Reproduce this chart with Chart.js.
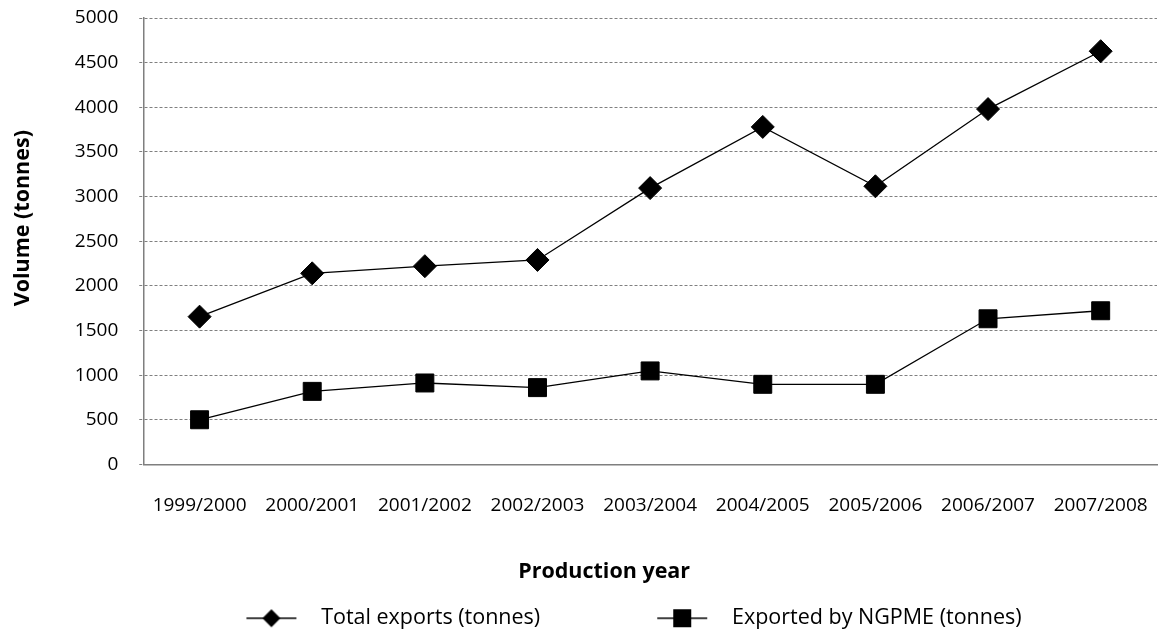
<!DOCTYPE html>
<html>
<head>
<meta charset="utf-8">
<script src="https://cdn.jsdelivr.net/npm/chart.js@4"></script>
<style>
  html, body { margin: 0; padding: 0; background: #fff; }
  #wrap { width: 1163px; height: 634px; }
</style>
</head>
<body>
<div id="wrap"><canvas id="c" width="1163" height="634"></canvas></div>
<script>
const categories = ['1999/2000','2000/2001','2001/2002','2002/2003','2003/2004','2004/2005','2005/2006','2006/2007','2007/2008'];
const totalExports = [1655, 2140, 2220, 2290, 3095, 3780, 3115, 3980, 4628];
const ngpmeExports = [500, 818, 912, 860, 1047, 897, 897, 1631, 1721];
const yTicks = [0, 500, 1000, 1500, 2000, 2500, 3000, 3500, 4000, 4500, 5000];
const seriesNames = ['Total exports (tonnes)', 'Exported by NGPME (tonnes)'];

const FONT = "'Open Sans', 'Noto Sans', sans-serif";
const LEG_W = 175, LEG_OFF = 111;

function legendSymbol(kind) {
  const cv = document.createElement('canvas');
  cv.width = LEG_W; cv.height = 26;
  const g = cv.getContext('2d');
  g.strokeStyle = '#000'; g.lineWidth = 1.4;
  g.beginPath(); g.moveTo(LEG_OFF, 13); g.lineTo(LEG_OFF + 50, 13); g.stroke();
  g.fillStyle = '#000';
  const cx = LEG_OFF + 25;
  if (kind === 'diamond') {
    g.beginPath(); g.moveTo(cx, 4); g.lineTo(cx + 9, 13); g.lineTo(cx, 22); g.lineTo(cx - 9, 13); g.closePath(); g.fill();
  } else {
    g.fillRect(cx - 9, 4, 18, 18);
  }
  return cv;
}
const legendImgs = [legendSymbol('diamond'), legendSymbol('square')];

// Shift an axis title (the reference's titles are not centred on the plot area)
function shiftTitle(s, dx, dy) {
  if (s._titleShifted) return;
  s._titleShifted = true;
  const orig = s.drawTitle;
  s.drawTitle = function (...a) {
    const c = this.ctx; c.save(); c.translate(dx, dy); orig.apply(this, a); c.restore();
  };
}

new Chart(document.getElementById('c'), {
  type: 'line',
  data: {
    labels: categories,
    datasets: [
      { label: seriesNames[0], data: totalExports, borderColor: '#000', backgroundColor: '#000',
        borderWidth: 1.3, pointStyle: 'rectRot', pointRadius: 11.5, pointHoverRadius: 11.5,
        pointBorderWidth: 1, tension: 0, clip: false },
      { label: seriesNames[1], data: ngpmeExports, borderColor: '#000', backgroundColor: '#000',
        borderWidth: 1.3, pointStyle: 'rect', pointRadius: 12.7, pointHoverRadius: 12.7,
        pointBorderWidth: 1, tension: 0, clip: false }
    ]
  },
  options: {
    responsive: false,
    animation: false,
    events: [],
    layout: { autoPadding: false, padding: { top: 18, right: 6, bottom: -5, left: 0 } },
    scales: {
      x: {
        offset: true,
        afterFit: (s) => { s.paddingLeft = 0; s.paddingRight = 0; shiftTitle(s, -46, 0); },
        grid: { display: false, drawTicks: false },
        border: { display: true, color: '#7f7f7f', width: 1.5 },
        ticks: { color: '#000', font: { family: FONT, size: 19 }, padding: 30, maxRotation: 0, autoSkip: false },
        title: { display: true, text: 'Production year', color: '#000',
                 font: { family: FONT, size: 21.5, weight: 'bold' }, padding: { top: 11.5, bottom: 17 } }
      },
      y: {
        min: 0, max: 5000,
        afterBuildTicks: (s) => { s.ticks = yTicks.map(v => ({ value: v })); },
        afterFit: (s) => { s.paddingTop = 0; s.paddingBottom = 0; shiftTitle(s, 0, -23); },
        grid: { color: '#808080', lineWidth: 1, tickLength: 4, drawTicks: true,
                tickBorderDash: [3, 2], tickColor: '#808080' },
        border: { display: true, color: '#7f7f7f', width: 1.5, dash: [3, 2] },
        ticks: { color: '#000', font: { family: FONT, size: 19 }, padding: 21,
                 callback: (v) => String(v) },
        title: { display: true, text: 'Volume (tonnes)', color: '#000',
                 font: { family: FONT, size: 21.5, weight: 'bold' }, padding: { top: 10, bottom: 18 } }
      }
    },
    plugins: {
      tooltip: { enabled: false },
      legend: {
        position: 'bottom',
        labels: {
          usePointStyle: true,
          pointStyleWidth: LEG_W,
          padding: 6,
          color: '#000',
          font: { family: FONT, size: 21.5 },
          generateLabels: (chart) => chart.data.datasets.map((ds, i) => ({
            text: ds.label, pointStyle: legendImgs[i], fillStyle: '#000', strokeStyle: '#000',
            lineWidth: 0, hidden: false, datasetIndex: i, fontColor: '#000'
          }))
        }
      }
    }
  }
});
</script>
</body>
</html>
